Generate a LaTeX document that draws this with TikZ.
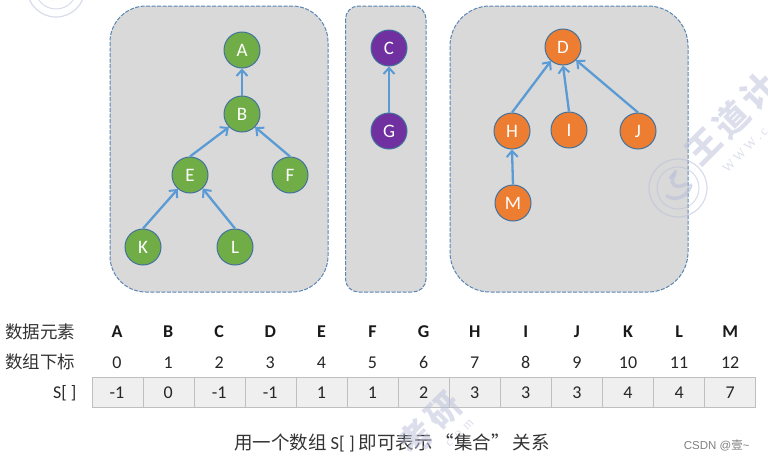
\documentclass[tikz,border=0pt]{standalone}
\usepackage{fontspec}
\setmainfont{Carlito}
\newfontfamily\cjk{Noto Sans CJK SC}
\definecolor{boxfill}{HTML}{D9D9D9}
\definecolor{boxline}{HTML}{5B86B5}
\definecolor{arrowc}{HTML}{5B9BD5}
\definecolor{nodeline}{HTML}{41719C}
\definecolor{greenn}{HTML}{70AD47}
\definecolor{purplen}{HTML}{7030A0}
\definecolor{orangen}{HTML}{ED7D31}
\definecolor{cellfill}{HTML}{EFEFEF}
\definecolor{cellline}{HTML}{BFBFBF}
\definecolor{wm}{HTML}{B9BED9}
\usetikzlibrary{arrows.meta}
\tikzset{
  groupbox/.style={fill=boxfill,draw=boxline,line width=1pt,dash pattern=on 4pt off 1.5pt},
  circ/.style={circle,minimum size=36pt,inner sep=0pt,draw=nodeline,line width=1pt,text=white,font=\fontsize{19}{19}\selectfont},
  gn/.style={circ,fill=greenn},
  pn/.style={circ,fill=purplen},
  on/.style={circ,fill=orangen},
  link/.style={draw=arrowc,line width=2.3pt,-{Straight Barb[length=6pt,width=11pt,line width=2pt]}},
  hdr/.style={anchor=base,inner sep=0pt,font=\fontsize{18}{18}\selectfont\bfseries,text=black!90},
  idx/.style={anchor=base,inner sep=0pt,font=\fontsize{18}{18}\selectfont,text=black!85},
  cellv/.style={anchor=base,inner sep=0pt,font=\fontsize{18}{18}\selectfont,text=black!85},
  side/.style={anchor=east,font=\cjk\fontsize{17.5}{18}\selectfont,text=black!80},
  wmark/.style={font=\cjk\bfseries\fontsize{34}{34}\selectfont,text=wm,rotate=45,opacity=.5},
  wsmall/.style={font=\fontspec{Liberation Serif}\fontsize{13}{13}\selectfont,text=wm,rotate=45,opacity=.5},
  wring/.style={draw=wm,opacity=.55}
}
\newcommand{\wstamp}[2]{%
  \begin{scope}[shift={(#1,#2)}]
    \draw[wring,line width=1.2pt] (0,0) circle (29);
    \draw[wring,line width=1pt] (0,0) circle (21);
    \draw[wring,line width=3.5pt,line cap=round] (-11,8) .. controls (-2,14) and (10,8) .. (13,-3);
    \draw[wring,line width=3.5pt,line cap=round] (-3,-14) .. controls (-10,-4) and (-2,2) .. (8,-4);
    \draw[wring,line width=3pt,line cap=round] (-8,-10) -- (-2,-17);
  \end{scope}}
\begin{document}
\begin{tikzpicture}[x=1pt,y=-1pt]
\path[use as bounding box] (0,0) rectangle (768,459);
\clip (0,0) rectangle (768,459);
% group panels
\draw[groupbox,rounded corners=36pt] (110,6) rectangle (328,292);
\draw[groupbox,rounded corners=13pt] (345.5,6) rectangle (426,292);
\draw[groupbox,rounded corners=40pt] (450,6) rectangle (688,292);
% nodes
\node[gn] (A) at (242,50) {A};
\node[gn] (B) at (242,114) {B};
\node[gn] (E) at (190,175) {E};
\node[gn] (F) at (290,175) {F};
\node[gn] (K) at (143,247) {K};
\node[gn] (L) at (235,247) {L};
\node[pn] (C) at (389,48) {C};
\node[pn] (G) at (389,131) {G};
\node[on] (D) at (563,47) {D};
\node[on] (H) at (512,131) {H};
\node[on] (I) at (569,130) {I};
\node[on] (J) at (638,131) {J};
\node[on] (M) at (513,203) {M};
% links
\draw[link] (B.north) -- (A.south);
\draw[link] (E.north) -- (B.225);
\draw[link] (F.north) -- (B.-45);
\draw[link] (K.north) -- (E.229);
\draw[link] (L.north) -- (E.-47);
\draw[link] (G.north) -- (C.south);
\draw[link] (H.north) -- (D.229);
\draw[link] (I.north) -- (D.south);
\draw[link] (J.north) -- (D.-45);
\draw[link] (M.north) -- (H.south);
% array
\foreach \i/\nm/\v [evaluate=\i as \xl using 91.5+51.05*\i, evaluate=\i as \xc using 117+51.1*\i] in
 {0/A/-1,1/B/0,2/C/-1,3/D/-1,4/E/1,5/F/1,6/G/2,7/H/3,8/I/3,9/J/3,10/K/4,11/L/4,12/M/7}{
  \node[hdr] (h\i) at (\xc,337) {\nm};
  \node[idx] (n\i) at (\xc,368) {\i};
  \node[draw=cellline,fill=cellfill,line width=1pt,minimum width=51.05pt,minimum height=30pt,inner sep=0pt,anchor=north west] (c\i) at (\xl,377) {};
  \node[cellv] (v\i) at (\xc,398) {\v};
}
\node[side] (lab1) at (79,332) {数据元素};
\node[side] (lab2) at (79,362) {数组下标};
\node[anchor=base east,font=\fontsize{18}{18}\selectfont,text=black!85] (lab3) at (80,398) {S[ ]};
% caption
\node[font=\cjk\fontsize{18.5}{19}\selectfont,text=black!80] (cap) at (392,443) {用一个数组 {\fontspec{Carlito}S[ ]} 即可表示\,“集合”\,关系};
\node[font=\fontsize{11.5}{12}\selectfont\fontspec{Liberation Sans},text=black!50,anchor=east] (csdn) at (753,445) {CSDN @{\cjk 壹}\textasciitilde};
% watermarks
\wstamp{678}{188}
\wstamp{56}{-12}
\node[wmark] (w1) at (731,119) {王\hspace{5pt}道\hspace{5pt}计};
\node[wmark] (w2) at (430,424) {考\hspace{3pt}研};
\node[wsmall] (w3) at (745,150) {W\hspace{3pt}W\hspace{3pt}W\hspace{3pt}.\hspace{3pt}c};
\node[wsmall] (w4) at (460,433) {c\hspace{6pt}o\hspace{6pt}m};
\end{tikzpicture}
\end{document}
